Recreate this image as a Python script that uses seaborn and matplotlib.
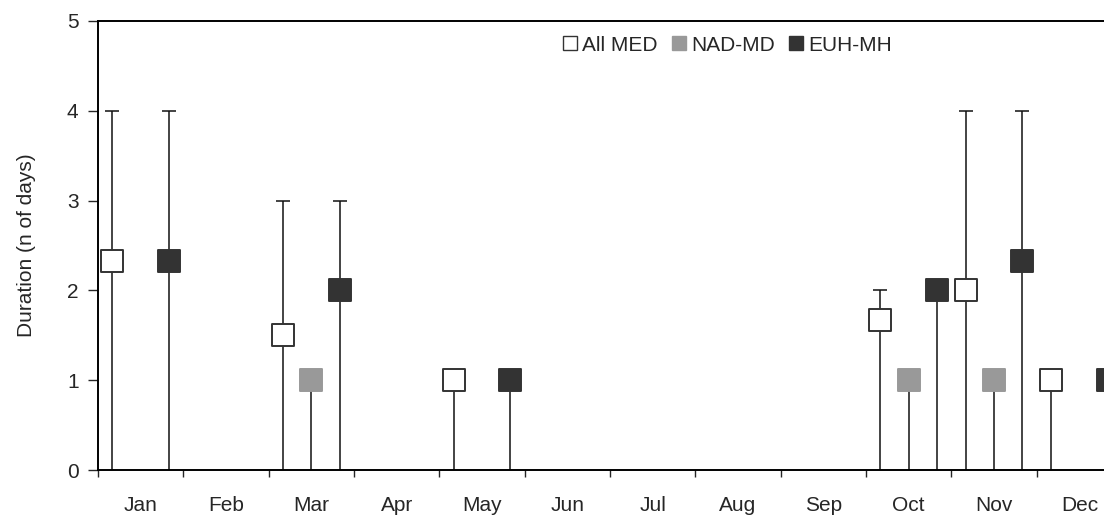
import numpy as np
import pandas as pd
import matplotlib.pyplot as plt
import seaborn as sns
from matplotlib.lines import Line2D

nan = np.nan

# months on the x axis
months = ['Jan', 'Feb', 'Mar', 'Apr', 'May', 'Jun',
          'Jul', 'Aug', 'Sep', 'Oct', 'Nov', 'Dec']
series_names = ['All MED', 'NAD-MD', 'EUH-MH']

# mean duration per month (nan = no event)
all_med = [2.33, nan, 1.5, nan, 1, nan, nan, nan, nan, 1.67, 2, 1]
nad_md = [nan, nan, 1, nan, nan, nan, nan, nan, nan, 1, 1, nan]
euh_mh = [2.33, nan, 2, nan, 1, nan, nan, nan, nan, 2, 2.33, 1]

# min / max duration (whiskers)
all_med_min = [0, nan, 0, nan, 0, nan, nan, nan, nan, 0, 0, 0]
all_med_max = [4, nan, 3, nan, 1, nan, nan, nan, nan, 2, 4, 1]
nad_md_min = [nan, nan, 0, nan, nan, nan, nan, nan, nan, 0, 0, nan]
nad_md_max = [nan, nan, 1, nan, nan, nan, nan, nan, nan, 1, 1, nan]
euh_mh_min = [0, nan, 0, nan, 0, nan, nan, nan, nan, 0, 0, 0]
euh_mh_max = [4, nan, 3, nan, 1, nan, nan, nan, nan, 2, 4, 1]

# build one long table
rows = []
values = [(all_med, all_med_min, all_med_max),
          (nad_md, nad_md_min, nad_md_max),
          (euh_mh, euh_mh_min, euh_mh_max)]
offsets = [1 / 6, 1 / 2, 5 / 6]
for name, (mean, lo, hi), off in zip(series_names, values, offsets):
    for i, m in enumerate(months):
        if not np.isnan(mean[i]):
            rows.append({'series': name, 'month': m, 'x': i + off,
                         'dur': mean[i], 'lo': lo[i], 'hi': hi[i]})
df = pd.DataFrame(rows)

sns.set_style('ticks')
plt.rcParams['font.family'] = ['Liberation Sans', 'DejaVu Sans']

fig = plt.figure(figsize=(11.04, 5.15), dpi=100)
ax = fig.add_axes([98 / 1104, 1 - 470 / 515, 1024 / 1104, 449 / 515])

face = {'All MED': 'white', 'NAD-MD': '#999999', 'EUH-MH': '#333333'}
edge = {'All MED': '#333333', 'NAD-MD': '#999999', 'EUH-MH': '#333333'}

for name in series_names:
    d = df[df['series'] == name]
    # whisker from min to max, cap only on top
    ax.vlines(d['x'], d['lo'], d['hi'], color='#111111', linewidth=1.1,
              zorder=2, clip_on=False)
    top = d[d['hi'] > d['dur']]
    ax.scatter(top['x'], top['hi'], marker='_', s=110, color='#111111',
               linewidth=1.1, zorder=2, clip_on=False)
    sns.scatterplot(data=d, x='x', y='dur', marker='s', s=250,
                    color=face[name], edgecolor=edge[name], linewidth=1.4,
                    ax=ax, zorder=3, legend=False, clip_on=False)

ax.set_xlim(0, 12)
ax.set_ylim(0, 5)
ax.set_yticks(range(6))
ax.set_xticks(np.arange(13))
ax.set_xticklabels([])
ax.set_xticks(np.arange(12) + 0.5, minor=True)
ax.set_xticklabels(months, minor=True)
ax.tick_params(axis='x', which='minor', length=0, pad=19, labelsize=15)
ax.tick_params(axis='x', which='major', length=5, width=1, direction='out')
ax.tick_params(axis='y', length=7, width=1, labelsize=15, pad=7)

for s in ax.spines.values():
    s.set_linewidth(1.4)
    s.set_color('black')

ax.set_xlabel('')
ax.set_ylabel('Duration (n of days)', fontsize=15, labelpad=22)

handles = [Line2D([], [], marker='s', linestyle='none', markersize=10,
                  markerfacecolor=face[n],
                  markeredgecolor='#333333' if n == 'All MED' else face[n],
                  markeredgewidth=1) for n in series_names]
ax.legend(handles, series_names, loc='center', bbox_to_anchor=(0.613, 0.946),
          ncol=3, frameon=False, fontsize=15, handletextpad=0.1,
          columnspacing=0.5, handlelength=1)

fig.savefig('out.png', dpi=100)
